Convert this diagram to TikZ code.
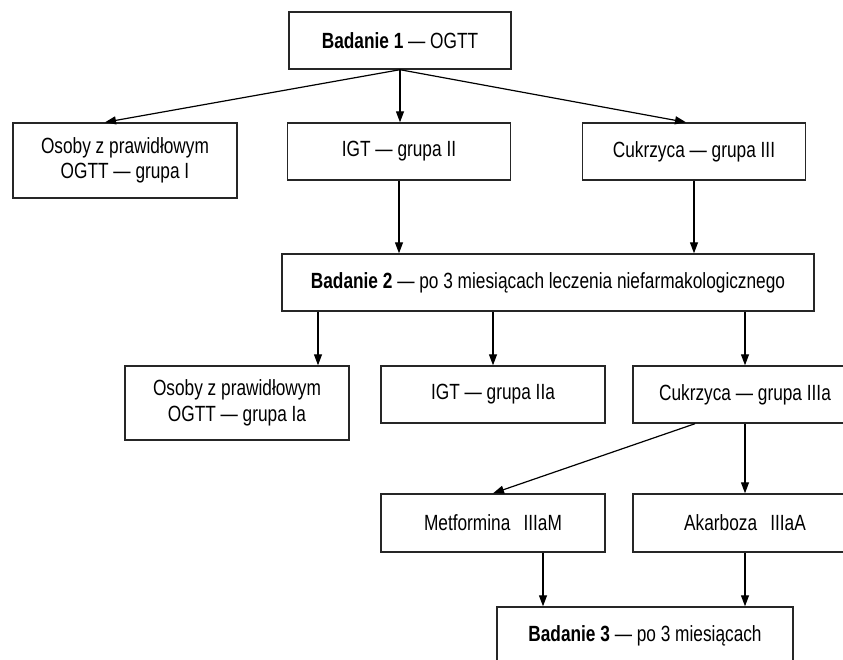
\documentclass[tikz,border=0pt]{standalone}
\usepackage{fontspec}
\setmainfont[FakeStretch=0.785]{Liberation Sans}
\usetikzlibrary{arrows.meta}
\begin{document}
\begin{tikzpicture}[x=1pt,y=-1pt,
  box/.style={draw=black!85, line width=1.4pt, inner sep=0pt, align=center,
    font=\fontsize{22}{25.5}\selectfont},
  arr/.style={-{Triangle[length=11pt,width=8pt]}, line width=1.2pt}]
\useasboundingbox (0,0) rectangle (843,660);
\clip (0,0) rectangle (843,660);
\fill[white] (0,0) rectangle (843,660);
% nodes
\node[box, minimum width=222pt, minimum height=57pt] (b1) at (400,40.5) {\textbf{Badanie 1} — OGTT};
\node[box, minimum width=224pt, minimum height=75pt] (g1) at (125,160.5) {Osoby z prawidłowym\\OGTT — grupa I};
\node[box, minimum width=223pt, minimum height=57pt] (g2) at (399,151.5) {IGT — grupa II};
\node[box, minimum width=223pt, minimum height=57pt] (g3) at (694,151.5) {Cukrzyca — grupa III};
\node[box, minimum width=532pt, minimum height=57pt] (b2) at (548,282.5) {\textbf{Badanie 2} — po 3 miesiącach leczenia niefarmakologicznego};
\node[box, minimum width=224pt, minimum height=74pt] (g1a) at (237,403) {Osoby z prawidłowym\\OGTT — grupa Ia};
\node[box, minimum width=224pt, minimum height=57pt] (g2a) at (493,394.5) {IGT — grupa IIa};
\node[box, minimum width=224pt, minimum height=57pt] (g3a) at (745,394.5) {Cukrzyca — grupa IIIa};
\node[box, minimum width=224pt, minimum height=58pt] (m) at (493,523) {Metformina\hspace{0.6em}IIIaM};
\node[box, minimum width=224pt, minimum height=58pt] (a) at (745,523) {Akarboza\hspace{0.6em}IIIaA};
\node[box, minimum width=296pt, minimum height=57pt] (b3) at (645,635.5) {\textbf{Badanie 3} — po 3 miesiącach};
% helper coordinates
\coordinate (t1) at ([xshift=-20pt]g1.north);
\coordinate (t3) at ([xshift=-8pt]g3.north);
\coordinate (p1) at ([xshift=81pt]g1a.north);
\coordinate (s3) at ([xshift=-50pt]g3a.south);
\coordinate (p2) at ([xshift=50pt]m.south);
% connectors
\draw[arr] (b1.south) -- (t1);
\draw[arr] (b1.south) -- (b1.south |- g2.north);
\draw[arr] (b1.south) -- (t3);
\draw[arr] (g2.south) -- (g2.south |- b2.north);
\draw[arr] (g3.south) -- (g3.south |- b2.north);
\draw[arr] (p1 |- b2.south) -- (p1);
\draw[arr] (g2a.north |- b2.south) -- (g2a.north);
\draw[arr] (g3a.north |- b2.south) -- (g3a.north);
\draw[arr] (s3) -- (m.north);
\draw[arr] (g3a.south) -- (a.north);
\draw[arr] (p2) -- (p2 |- b3.north);
\draw[arr] (a.south) -- (a.south |- b3.north);
\end{tikzpicture}
\end{document}
